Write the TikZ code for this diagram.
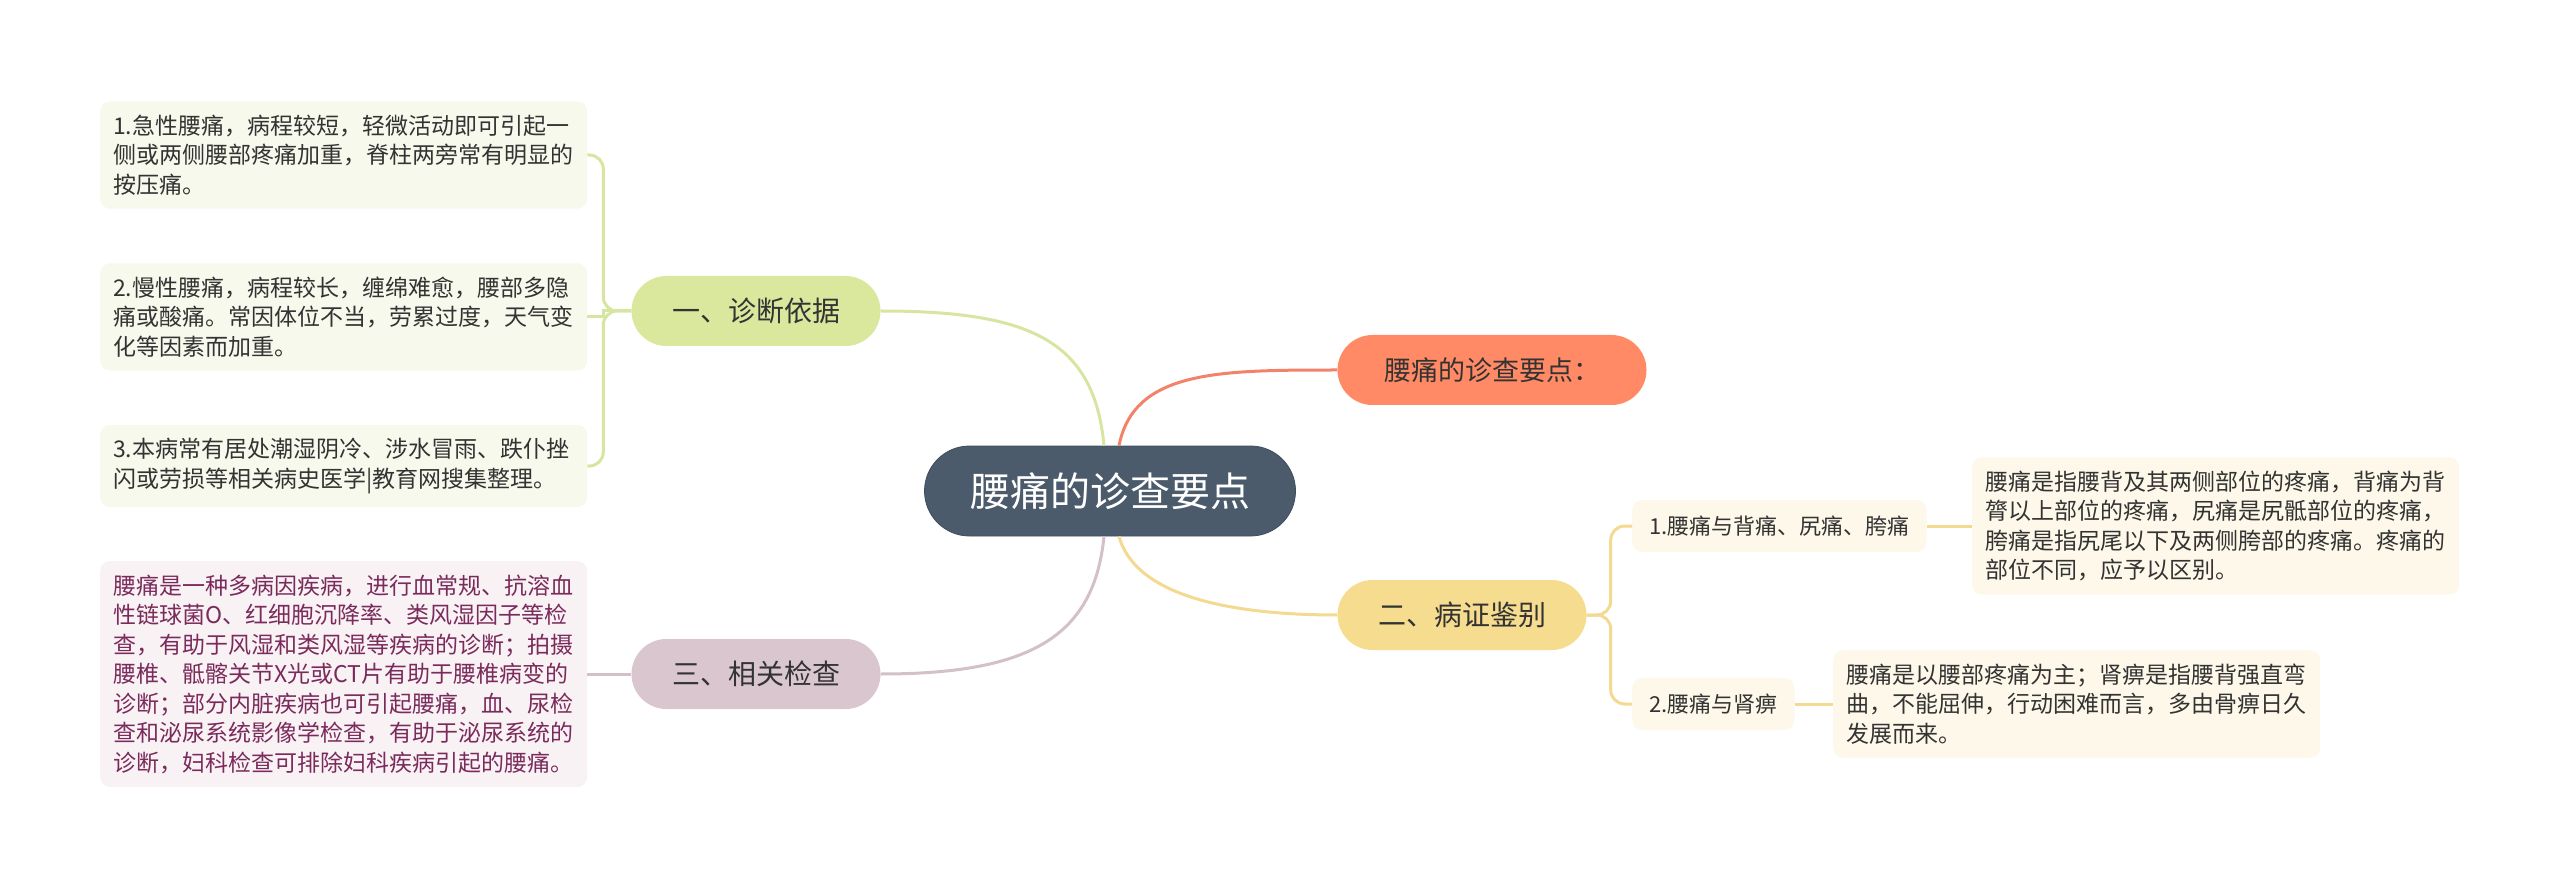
\documentclass[tikz,border=0pt]{standalone}
\usepackage{fontspec}
\setmainfont{Noto Sans CJK SC}
\usepackage{xcolor}
\usepackage{tikz}
\usetikzlibrary{positioning}
\definecolor{rootfill}{HTML}{4B5B6B}
\definecolor{orafill}{HTML}{FF8A65}
\definecolor{oralink}{HTML}{F2836A}
\definecolor{grnfill}{HTML}{DAE89E}
\definecolor{grnlink}{HTML}{D6E6A0}
\definecolor{grnleaf}{HTML}{F6F9EB}
\definecolor{ylwfill}{HTML}{F6DC8E}
\definecolor{ylwlink}{HTML}{F3DA90}
\definecolor{ylwleaf}{HTML}{FDF8E9}
\definecolor{pnkfill}{HTML}{D9C6CF}
\definecolor{pnklink}{HTML}{D3C0C9}
\definecolor{pnkleaf}{HTML}{F8F2F5}
\definecolor{pnktext}{HTML}{7B2B5B}
\definecolor{textdark}{HTML}{333333}
\tikzset{
  rootbox/.style={fill=rootfill, draw=rootfill!85!black, line width=0.8pt, rounded corners=45pt,
    minimum width=371pt, minimum height=90pt, text=white, font=\fontsize{40}{46}\selectfont},
  mainbox/.style={rounded corners=35pt, minimum width=249pt, minimum height=70pt,
    text=textdark, font=\fontsize{28}{34}\selectfont},
  leafbox/.style={rounded corners=10pt, text width=461pt, align=left, inner xsep=13pt,
    inner ysep=13.5pt, text=textdark, font=\fontsize{23}{29.5}\selectfont},
  subbox/.style={rounded corners=10pt, fill=ylwleaf, minimum height=52pt, inner xsep=17pt,
    text=textdark, font=\fontsize{22}{26}\selectfont},
  link/.style={line width=3pt},
}
\begin{document}
\begin{tikzpicture}[x=1pt, y=-1pt]
        \useasboundingbox (0, 0) rectangle (2560, 890);

        \node[rootbox] (root) at (1110, 491) {腰痛的诊查要点};
        \node[mainbox, fill=orafill, minimum width=309pt, font=\fontsize{27}{32}\selectfont] (ora) at (1492, 370) {腰痛的诊查要点：};
        \node[mainbox, fill=grnfill] (yi) at (756, 311) {一、诊断依据};
        \node[mainbox, fill=ylwfill] (er) at (1462, 615) {二、病证鉴别};
        \node[mainbox, fill=pnkfill] (san) at (756, 674) {三、相关检查};

        \node[leafbox, fill=grnleaf, anchor=west] (d1) at (100, 155)
            {1.急性腰痛，病程较短，轻微活动即可引起一\\侧或两侧腰部疼痛加重，脊柱两旁常有明显的\\按压痛。};
        \node[leafbox, fill=grnleaf, anchor=west] (d2) at (100, 317)
            {2.慢性腰痛，病程较长，缠绵难愈，腰部多隐\\痛或酸痛。常因体位不当，劳累过度，天气变\\化等因素而加重。};
        \node[leafbox, fill=grnleaf, anchor=west] (d3) at (100, 466)
            {3.本病常有居处潮湿阴冷、涉水冒雨、跌仆挫\\闪或劳损等相关病史医学|教育网搜集整理。};
        \node[leafbox, fill=pnkleaf, text=pnktext, anchor=west] (jc) at (100, 674)
            {腰痛是一种多病因疾病，进行血常规、抗溶血\\性链球菌O、红细胞沉降率、类风湿因子等检\\查，有助于风湿和类风湿等疾病的诊断；拍摄\\腰椎、骶髂关节X光或CT片有助于腰椎病变的\\诊断；部分内脏疾病也可引起腰痛，血、尿检\\查和泌尿系统影像学检查，有助于泌尿系统的\\诊断，妇科检查可排除妇科疾病引起的腰痛。};

        \node[subbox, anchor=west] (b1) at (1632, 526) {1.腰痛与背痛、尻痛、胯痛};
        \node[subbox, anchor=west] (b2) at (1632, 704) {2.腰痛与肾痹};
        \node[leafbox, fill=ylwleaf, anchor=west] (r1) at (1972, 526)
            {腰痛是指腰背及其两侧部位的疼痛，背痛为背\\膂以上部位的疼痛，尻痛是尻骶部位的疼痛，\\胯痛是指尻尾以下及两侧胯部的疼痛。疼痛的\\部位不同，应予以区别。};
        \node[leafbox, fill=ylwleaf, anchor=west] (r2) at (1833, 704)
            {腰痛是以腰部疼痛为主；肾痹是指腰背强直弯\\曲，不能屈伸，行动困难而言，多由骨痹日久\\发展而来。};

        \draw[link, oralink] ([xshift=9pt]root.north) .. controls +(15, -75) and +(-120, 0) .. (ora.west);
        \draw[link, grnlink] ([xshift=-6pt]root.north) .. controls +(-10, -105) and +(150, 0) .. (yi.east);
        \draw[link, ylwlink] ([xshift=9pt]root.south) .. controls +(15, 55) and +(-120, 0) .. (er.west);
        \draw[link, pnklink] ([xshift=-6pt]root.south) .. controls +(-10, 100) and +(150, 0) .. (san.east);

        \draw[link, grnlink, rounded corners=14pt] (yi.west) -- ++(-28, 0) |- (d1.east);
        \draw[link, grnlink] (yi.west) -- ++(-28, 0) |- (d2.east);
        \draw[link, grnlink, rounded corners=14pt] (yi.west) -- ++(-28, 0) |- (d3.east);
        \draw[link, pnklink] (san.west) -- (jc.east);

        \draw[link, ylwlink, rounded corners=14pt] (er.east) -- ++(24, 0) |- (b1.west);
        \draw[link, ylwlink, rounded corners=14pt] (er.east) -- ++(24, 0) |- (b2.west);
        \draw[link, ylwlink] (b1.east) -- (r1.west);
        \draw[link, ylwlink] (b2.east) -- (r2.west);
    \end{tikzpicture}
\end{document}
